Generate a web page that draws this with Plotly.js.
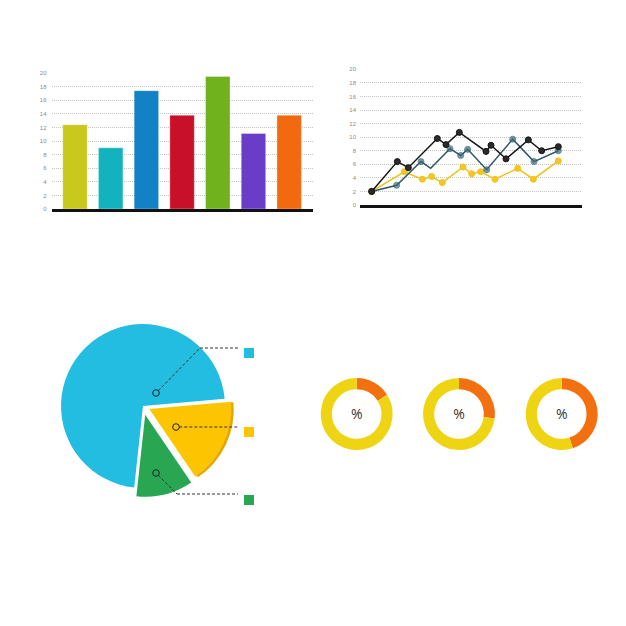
<!DOCTYPE html>
<html><head><meta charset="utf-8">
<script src="https://cdn.plot.ly/plotly-3.0.1.min.js"></script>
<style>html,body{margin:0;padding:0;background:#fff}#chart{width:626px;height:626px}</style>
</head><body><div id="chart"></div>
<script>
// ---- data ----
const barCategories = ['A','B','C','D','E','F','G'];
const barValues = [12.4, 9.0, 17.4, 13.8, 19.5, 11.1, 13.8];
const barColors = ['#c9c81c','#12b3be','#1281c6','#c8102b','#6fb21e','#6a3dc9','#f26a0f'];
const yTickVals = [0,2,4,6,8,10,12,14,16,18,20];

const blackX = [110,187,220,307,333,373,453,468,513,580,620,670];
const blackY = [2,6.4,5.5,9.8,8.9,10.7,7.9,8.8,6.8,9.6,8.0,8.6];
const tealX  = [110,185,258,287,345,377,398,455,533,597,670];
const tealY  = [2,2.9,6.4,5.4,8.3,7.3,8.2,5.2,9.7,6.4,8.0];
const goldX  = [110,208,262,290,322,384,410,437,480,548,595,670];
const goldY  = [2,4.9,3.8,4.2,3.3,5.6,4.6,4.9,3.8,5.4,3.8,6.5];

const pieLabels = ['Yellow','Green','Blue'];
const pieValues = [16.9, 11.2, 71.9];
const pieColors = ['#fdc402','#28a651','#23bde1'];
const piePull = [0.085, 0.11, 0];

const donutLabels = ['Orange','Yellow'];
const donutA = [16, 84];
const donutB = [27, 73];
const donutC = [45, 55];
const donutColors = ['#f2700f','#efd413'];

// ---- helpers (pixel -> paper) ----
const W = 626;
const X = p => p / W;
const Y = p => 1 - p / W;

const tickFont = {family:'Liberation Sans, Arial, sans-serif', size:6, color:'#8a8a8a'};

const traces = [];
traces.push({type:'bar', x:barCategories, y:barValues, marker:{color:barColors, line:{color:'rgba(255,255,255,0.35)', width:1}},
  xaxis:'x', yaxis:'y', hoverinfo:'skip'});

const lineStyle = (c, mc) => ({mode:'lines+markers', line:{color:c, width:1.5}, marker:{color:mc, size:6, line:{color:c, width:1}}, xaxis:'x2', yaxis:'y2', hoverinfo:'skip'});
traces.push(Object.assign({type:'scatter', x:goldX, y:goldY}, lineStyle('#f1c11a','#f3c822')));
traces.push(Object.assign({type:'scatter', x:tealX, y:tealY}, lineStyle('#2c5868','#3b6b7b'),
  {marker:{color:'#3b6b7b', size:tealX.map((v,i)=> i===3 ? 0 : 6), line:{color:'#2c5868', width:1}}}));
traces.push(Object.assign({type:'scatter', x:blackX, y:blackY}, lineStyle('#151515','#2a2a2a')));

// pie: rim copy underneath (yellow bevel)
const pieDom = {x:[X(52), X(234)], y:[Y(497), Y(315)]};
traces.push({type:'pie', labels:pieLabels, values:pieValues, sort:false, direction:'clockwise', rotation:85,
  pull:piePull, textinfo:'none', hoverinfo:'skip', showlegend:false,
  marker:{colors:['#e4a500','rgba(0,0,0,0)','rgba(0,0,0,0)'], line:{width:0}},
  domain:{x:[X(54.5), X(236.5)], y:[Y(497.5), Y(315.5)]}});
traces.push({type:'pie', labels:pieLabels, values:pieValues, sort:false, direction:'clockwise', rotation:85,
  pull:piePull, textinfo:'none', hoverinfo:'skip', showlegend:false,
  marker:{colors:pieColors, line:{width:0}}, domain:pieDom});

const donutCenters = [356.7, 459, 561.7];
[donutA, donutB, donutC].forEach((vals, i) => {
  const cx = donutCenters[i];
  traces.push({type:'pie', labels:donutLabels, values:vals, hole:0.69, sort:false, direction:'clockwise', rotation:0,
    textinfo:'none', hoverinfo:'skip', showlegend:false,
    marker:{colors:donutColors, line:{width:0}},
    title:{text:'%', position:'middle center', font:{family:'Open Sans, sans-serif', size:14, color:'#333'}},
    domain:{x:[X(cx-36), X(cx+36)], y:[Y(450), Y(378)]}});
});

// ---- leader lines & markers for pie ----
const dashLine = {color:'#333', width:1, dash:'3px,2px'};
const seg = (x0,y0,x1,y1) => ({type:'line', xref:'paper', yref:'paper', x0:X(x0), y0:Y(y0), x1:X(x1), y1:Y(y1), line:dashLine});
const ring = (cx,cy) => ({type:'circle', xref:'paper', yref:'paper', x0:X(cx-3.3), x1:X(cx+3.3), y0:Y(cy+3.3), y1:Y(cy-3.3), line:{color:'#222', width:1}, fillcolor:'rgba(0,0,0,0)'});
const box = (x,y,c) => ({type:'rect', xref:'paper', yref:'paper', x0:X(x), x1:X(x+10), y0:Y(y+10), y1:Y(y), line:{width:0}, fillcolor:c});
const shapes = [
  seg(158.3,390.7,200,348), seg(200,348,238,348), ring(156,393), box(244,348,pieColors[2]),
  seg(179.3,427,238,427), ring(176,427), box(244,427,pieColors[0]),
  seg(158.3,475.3,177,494), seg(177,494,238,494), ring(156,473), box(244,495,pieColors[1])
];

const grid = {gridcolor:'#c4c4c4', griddash:'1px,1px', gridwidth:1};
const layout = {
  width:626, height:626, margin:{l:0,r:0,t:0,b:0}, paper_bgcolor:'#fff', plot_bgcolor:'rgba(0,0,0,0)',
  showlegend:false, bargap:0.314,
  xaxis:{domain:[X(51.5), X(313)], range:[-0.658, 6.667], showticklabels:false, ticks:'', showgrid:false,
    showline:true, linecolor:'#111', linewidth:2.5, zeroline:false, fixedrange:true},
  yaxis:Object.assign({domain:[Y(209), Y(73)], range:[0,20], tickvals:yTickVals, tickfont:tickFont, showgrid:true,
    zeroline:false, ticks:'', ticklabelstandoff:4, fixedrange:true}, grid),
  xaxis2:{domain:[X(360), X(582)], range:[75, 741], showticklabels:false, ticks:'', showgrid:false,
    showline:true, linecolor:'#111', linewidth:2.5, zeroline:false, anchor:'y2', fixedrange:true},
  yaxis2:Object.assign({domain:[Y(205), Y(69.3)], range:[0,20], tickvals:yTickVals, tickfont:tickFont, showgrid:true,
    zeroline:false, ticks:'', anchor:'x2', ticklabelstandoff:3, fixedrange:true}, grid),
  shapes:shapes
};

Plotly.newPlot('chart', traces, layout, {staticPlot:true, displayModeBar:false});
</script>
</body></html>
